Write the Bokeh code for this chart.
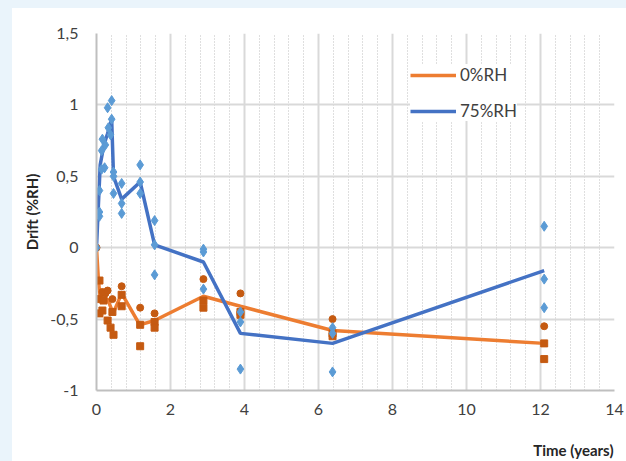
from bokeh.plotting import figure
from bokeh.models import FixedTicker, Range1d, Legend, LegendItem, Title
from bokeh.embed import file_html
from bokeh.resources import INLINE

# Mean lines
mean0_t = [0, 0.05, 0.1, 0.2, 0.3, 0.45, 0.68, 1.17, 1.57, 2.89, 3.89, 6.38, 12.1]
mean0_v = [0, -0.22, -0.36, -0.37, -0.36, -0.46, -0.32, -0.54, -0.51, -0.34, -0.41, -0.58, -0.67]
mean75_t = [0, 0.1, 0.2, 0.3, 0.41, 0.46, 0.68, 1.18, 1.57, 2.89, 3.89, 6.38, 12.1]
mean75_v = [0, 0.58, 0.72, 0.8, 0.9, 0.5, 0.34, 0.46, 0.02, -0.1, -0.6, -0.67, -0.16]

# 75%RH individual points (diamonds)
d75_t = [0, 0.08, 0.08, 0.08, 0.14, 0.14, 0.16, 0.22, 0.24, 0.3, 0.38, 0.32, 0.41, 0.41,
         0.46, 0.46, 0.46, 0.68, 0.68, 0.68, 1.18, 1.18, 1.18, 1.57, 1.57, 1.57,
         2.89, 2.89, 2.89, 3.89, 3.89, 3.89, 6.38, 6.38, 6.38, 12.1, 12.1, 12.1]
d75_v = [0, 0.22, 0.25, 0.40, 0.68, 0.55, 0.76, 0.56, 0.72, 0.98, 0.79, 0.84, 1.03, 0.9,
         0.53, 0.5, 0.38, 0.45, 0.31, 0.24, 0.58, 0.46, 0.38, 0.19, 0.02, -0.19,
         -0.01, -0.03, -0.29, -0.45, -0.52, -0.85, -0.56, -0.6, -0.87, 0.15, -0.22, -0.42]

# 0%RH individual points (circles)
c0_t = [0, 0.16, 0.24, 0.3, 0.43, 0.68, 1.18, 1.57, 2.89, 3.89, 6.38, 12.1]
c0_v = [0, -0.31, -0.32, -0.3, -0.36, -0.27, -0.42, -0.46, -0.22, -0.32, -0.5, -0.55]

# 0%RH individual points (squares)
s0_t = [0.08, 0.08, 0.19, 0.08, 0.16, 0.3, 0.38, 0.46, 0.43, 0.68, 0.68, 1.18, 1.18,
        1.57, 1.57, 2.89, 2.89, 3.89, 3.89, 6.38, 6.38, 12.1, 12.1]
s0_v = [-0.23, -0.36, -0.37, -0.46, -0.44, -0.51, -0.56, -0.61, -0.45, -0.33, -0.41, -0.54, -0.69,
        -0.52, -0.56, -0.37, -0.42, -0.45, -0.47, -0.6, -0.62, -0.67, -0.78]

x_ticks = [0, 2, 4, 6, 8, 10, 12, 14]
x_minor = [round(0.4 * i, 2) for i in range(36) if round(0.4 * i, 2) % 2 != 0]
y_ticks = [-1, -0.5, 0, 0.5, 1, 1.5]
y_labels = ["-1", "-0,5", "0", "0,5", "1", "1,5"]

FONT = "Lato"

p = figure(frame_width=518, frame_height=357, output_backend="svg", toolbar_location=None,
           x_range=Range1d(0, 14), y_range=Range1d(-1, 1.5),
           min_border_left=84, min_border_top=25, min_border_right=12, min_border_bottom=66)
p.background_fill_color = "white"
p.border_fill_color = "white"
p.outline_line_color = None
p.styles = {"border-left": "12px solid #EAF4FB", "border-top": "8px solid #EAF4FB"}

p.xaxis.ticker = FixedTicker(ticks=x_ticks, minor_ticks=x_minor)
p.yaxis.ticker = FixedTicker(ticks=y_ticks)
p.yaxis.major_label_overrides = {t: l for t, l in zip(y_ticks, y_labels)}

for ax in (p.xaxis, p.yaxis):
    ax.axis_line_color = "#BFBFBF"
    ax.axis_line_width = 2
    ax.major_tick_line_color = None
    ax.minor_tick_line_color = None
    ax.major_label_text_font = FONT
    ax.major_label_text_font_size = "16px"
    ax.major_label_text_color = "#404040"

p.yaxis.major_label_standoff = 12
p.xaxis.major_label_standoff = 7
p.yaxis.axis_label = "Drift (%RH)"
p.yaxis.axis_label_text_font = FONT
p.yaxis.axis_label_text_font_style = "bold"
p.yaxis.axis_label_text_font_size = "15px"
p.yaxis.axis_label_text_color = "#262626"
p.yaxis.axis_label_standoff = 6

p.xaxis.axis_label = " "
p.xaxis.axis_label_text_font_size = "10px"
p.xaxis.axis_label_standoff = 2

p.xgrid.grid_line_color = "#D9D9D9"
p.xgrid.grid_line_width = 2
p.xgrid.minor_grid_line_color = "#BFBFBF"
p.xgrid.minor_grid_line_dash = "1 2"
p.xgrid.minor_grid_line_width = 1
p.ygrid.grid_line_color = "#D9D9D9"
p.ygrid.grid_line_width = 2

p.add_layout(Title(text="Time (years)", align="right", text_font=FONT,
                   text_font_style="bold", text_font_size="15px",
                   text_color="#262626", offset=1), "below")

l0 = p.line(mean0_t, mean0_v, line_color="#ED7D31", line_width=3.5)
l75 = p.line(mean75_t, mean75_v, line_color="#4472C4", line_width=3.5)

p.scatter(c0_t, c0_v, marker="circle", size=7, fill_color="#C55A11", line_color="#C55A11")
p.scatter(s0_t, s0_v, marker="square", size=7, fill_color="#C55A11", line_color="#C55A11")
p.scatter(d75_t, d75_v, marker="diamond", size=10, fill_color="#5B9BD5", line_color="#5B9BD5")

legend = Legend(items=[LegendItem(label="0%RH", renderers=[l0]),
                       LegendItem(label="75%RH", renderers=[l75])],
                location=(314, 269), orientation="vertical")
legend.background_fill_color = "white"
legend.background_fill_alpha = 1
legend.border_line_color = None
legend.label_text_font = FONT
legend.label_text_font_size = "17px"
legend.label_text_color = "#404040"
legend.glyph_width = 46
legend.label_standoff = 4
legend.spacing = 15
legend.padding = 8
p.add_layout(legend, "center")

open("out.html", "w").write(file_html(p, INLINE))
